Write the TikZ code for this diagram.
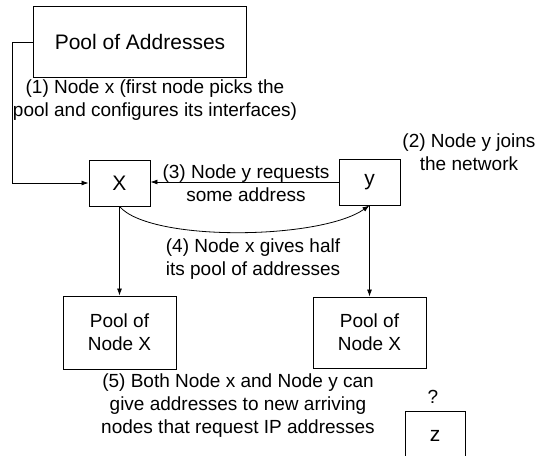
\documentclass[tikz,border=0pt]{standalone}
\usepackage{fontspec}
\setmainfont{Liberation Sans}
\usetikzlibrary{arrows.meta}
\tikzset{
  box/.style={draw, line width=0.9pt, rectangle, inner sep=0pt, align=center},
  arr/.style={draw, line width=0.8pt, -{Latex[length=7pt,width=5pt]}},
  lbl/.style={align=center, inner sep=0pt, font=\fontsize{19}{23}\selectfont},
  big/.style={font=\fontsize{21}{25}\selectfont},
  letter/.style={font=\fontsize{21}{25}\selectfont},
}
\begin{document}
\begin{tikzpicture}[x=1pt,y=-1pt]
\useasboundingbox (0,0) rectangle (543,455);

% boxes
\node[box, big, minimum width=213pt, minimum height=71pt] (pool) at (140,42) {Pool of Addresses};
\node[box, letter, minimum width=61pt, minimum height=46pt] (X) at (119.5,183) {X};
\node[box, letter, minimum width=61pt, minimum height=46pt] (Y) at (369.5,182) {y};
\node[box, lbl, minimum width=113pt, minimum height=73pt] (px) at (119.5,332.5) {Pool of\\Node X};
\node[box, lbl, minimum width=113pt, minimum height=71pt] (py) at (369.5,332.5) {Pool of\\Node X};

% open box for the newcomer
\coordinate (zbl) at (405,456);
\coordinate (zbr) at (465,456);
\draw[line width=0.9pt] (zbl) -- (405,411) -- (465,411) -- (zbr);
\node[letter] (z) at (435,436) {z};
\node[lbl] (q) at (433,397) {?};

% connectors
\draw[arr] (pool.west) -- ++(-21,0) |- (X.west);
\draw[arr] (Y.west) -- (X.east |- Y.west);
\draw[arr] (X.south) .. controls (150,242) and (320,240) .. (Y.south);
\draw[arr] (X.south) -- (px.north);
\draw[arr] (Y.south) -- (py.north);

% labels
\node[lbl] (l1) at (155,100) {(1) Node x (first node picks the\\pool and configures its interfaces)};
\node[lbl] (l2) at (469,152) {(2) Node y joins\\the network};
\node[lbl] (l3) at (246,183) {(3) Node y requests\\some address};
\node[lbl] (l4) at (253,259) {(4) Node x gives half\\its pool of addresses};
\node[lbl] (l5) at (238,406) {(5) Both Node x and Node y can\\give addresses to new arriving\\nodes that request IP addresses};
\end{tikzpicture}
\end{document}
